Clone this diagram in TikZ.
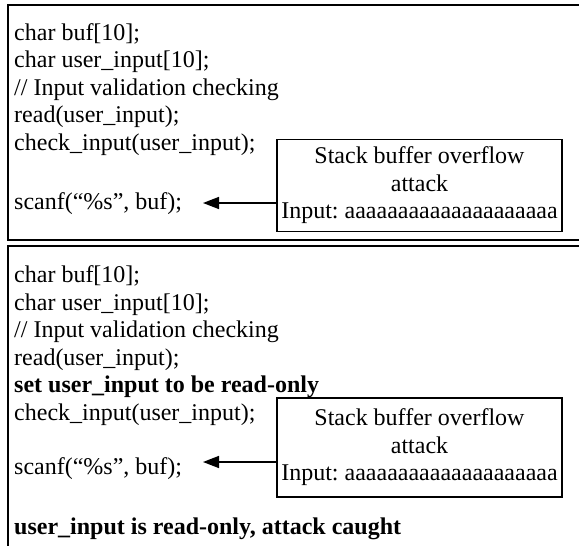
\documentclass[tikz,border=0pt]{standalone}
\usepackage{fontspec}
\setmainfont{Liberation Serif}
\usetikzlibrary{arrows.meta}
\frenchspacing
\begin{document}
\begin{tikzpicture}[x=1pt,y=-1pt,
  frame/.style={draw=black,line width=1.6pt},
  code/.style={anchor=base west,inner sep=0pt,font=\fontsize{24}{27.5}\selectfont},
  attackbox/.style={draw=black,line width=1.3pt,minimum width=285pt,minimum height=92pt,align=center,inner sep=0pt,font=\fontsize{24}{27.5}\selectfont},
  flow/.style={line width=1.5pt,-{Triangle[length=16pt,width=12pt]}}]
\useasboundingbox (0,0) rectangle (579,546);
\begin{scope}
\clip (0,0) rectangle (579,546);
% top panel
\draw[frame] (595,5) -- (8,5) -- (8,240) -- (595,240);
\node[code] (a1) at (14,40) {char buf[10];};
\node[code] (a2) at (14,67.5) {char user\_input[10];};
\node[code] (a3) at (14,95) {// Input validation checking};
\node[code] (a4) at (14,122.5) {read(user\_input);};
\node[code] (a5) at (14,150) {check\_input(user\_input);};
\node[code] (a6) at (14,209) {scanf(“\%s”, buf);};
\node[attackbox] (b1) at (419.5,185.5) {Stack buffer overflow\\attack\\Input: aaaaaaaaaaaaaaaaaaaa};
\coordinate (t1) at (203,203);
\draw[flow] (b1.west |- t1) -- (t1);
% bottom panel
\draw[frame] (8,560) -- (8,246) -- (595,246);
\node[code] (c1) at (14,282.5) {char buf[10];};
\node[code] (c2) at (14,310) {char user\_input[10];};
\node[code] (c3) at (14,337.5) {// Input validation checking};
\node[code] (c4) at (14,365) {read(user\_input);};
\node[code] (c5) at (14,392.5) {\textbf{set user\_input to be read-only}};
\node[code] (c6) at (14,420) {check\_input(user\_input);};
\node[code] (c7) at (14,474.5) {scanf(“\%s”, buf);};
\node[code] (c8) at (14,534.5) {\textbf{user\_input is read-only, attack caught}};
\node[attackbox,minimum height=99pt] (b2) at (419.5,447.5) {Stack buffer overflow\\attack\\Input: aaaaaaaaaaaaaaaaaaaa};
\coordinate (t2) at (203,462);
\draw[flow] (b2.west |- t2) -- (t2);
\end{scope}
\end{tikzpicture}
\end{document}
